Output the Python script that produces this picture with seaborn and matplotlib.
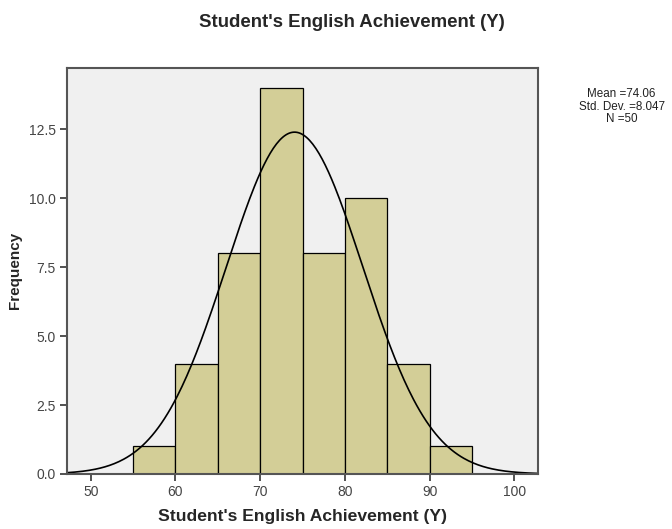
import numpy as np
import pandas as pd
import matplotlib
matplotlib.use('Agg')
import matplotlib.pyplot as plt
import seaborn as sns

# histogram bins (score ranges) and frequencies
bin_edges = [55, 60, 65, 70, 75, 80, 85, 90, 95]
counts = [1, 4, 8, 14, 8, 10, 4, 1]

mean_y = 74.06
sd_y = 8.047
n_y = 50

x_ticks = [50, 60, 70, 80, 90, 100]
y_ticks = [0.0, 2.5, 5.0, 7.5, 10.0, 12.5]

sns.set_style('white')
plt.rcParams['font.family'] = ['Liberation Sans', 'DejaVu Sans']

df = pd.DataFrame({
    'score': [(a + b) / 2 for a, b in zip(bin_edges[:-1], bin_edges[1:])],
    'count': counts,
})

fig = plt.figure(figsize=(6.72, 5.29), dpi=100)
ax = fig.add_axes([0.0997, 0.104, 0.7009, 0.768])
ax.set_facecolor('#f0f0f0')

sns.histplot(data=df, x='score', weights='count', bins=bin_edges, ax=ax,
             color='#d3ce97', alpha=1, edgecolor='black', linewidth=0.9)

# fitted normal curve (scaled to frequency)
xs = np.linspace(47.2, 102.8, 300)
bw = bin_edges[1] - bin_edges[0]
ys = n_y * bw / (sd_y * np.sqrt(2 * np.pi)) * np.exp(-0.5 * ((xs - mean_y) / sd_y) ** 2)
sns.lineplot(x=xs, y=ys, ax=ax, color='black', linewidth=1.2)

ax.set_xlim(47.2, 102.8)
ax.set_ylim(0, 14.73)
ax.set_xticks(x_ticks)
ax.set_yticks(y_ticks)
ax.set_yticklabels([f'{v:.1f}' for v in y_ticks])
ax.tick_params(axis='both', direction='out', length=5, width=1.2, color='#333333',
               labelsize=10, labelcolor='#444444', bottom=True, left=True, pad=3)

for s in ax.spines.values():
    s.set_color('#555555')
    s.set_linewidth(1.5)

ax.set_xlabel("Student's English Achievement (Y)", fontsize=12.6, fontweight='bold', labelpad=7)
ax.set_ylabel('Frequency', fontsize=11, fontweight='bold', labelpad=5)

fig.text(0.524, 0.958, "Student's English Achievement (Y)", ha='center', va='center',
         fontsize=13.4, fontweight='bold')

fig.text(0.925, 0.798, f'Mean ={mean_y:.2f}\nStd. Dev. ={sd_y:.3f}\nN ={n_y}',
         ha='center', va='center', fontsize=8.4, linespacing=1.05, color='#222222')

fig.savefig('out.png', dpi=100)
